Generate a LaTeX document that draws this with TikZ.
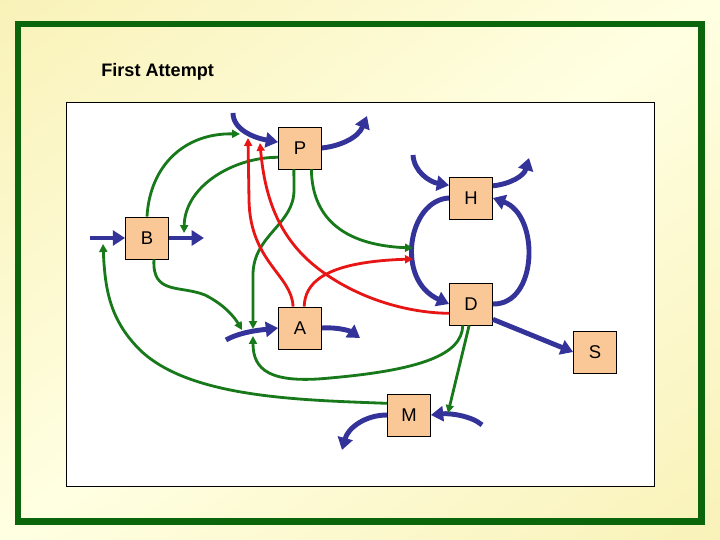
\documentclass[tikz,border=0pt]{standalone}
\usepackage{fontspec}
\setmainfont{Liberation Sans}
\usetikzlibrary{arrows.meta}
\definecolor{bgyellow}{HTML}{F6ECA6}
\definecolor{bglight}{HTML}{FFFFE2}
\definecolor{frame}{HTML}{0B650B}
\definecolor{peach}{HTML}{FAC797}
\definecolor{flow}{HTML}{333399}
\definecolor{link}{HTML}{17791A}
\definecolor{hot}{HTML}{E81515}
\pgfdeclarehorizontalshading{slide}{100bp}{color(0bp)=(bgyellow); color(50bp)=(bglight); color(100bp)=(bgyellow)}

\begin{document}
\begin{tikzpicture}[x=0.02cm, y=-0.02cm,
    box/.style={draw=black, line width=0.5pt, fill=peach, minimum width=0.86cm, minimum height=0.84cm, inner sep=0pt, font=\fontsize{10.5}{12}\selectfont},
    flowline/.style={draw=flow, line width=2.8pt, -{Triangle[length=7pt, width=8.5pt]}},
    linkline/.style={draw=link, line width=1.6pt, -{Triangle[length=4.5pt, width=4.5pt]}},
    hotline/.style={draw=hot, line width=1.6pt, -{Triangle[length=4.5pt, width=4.5pt]}},
  ]
% --- Slide -----------------------------------------------------------------------
\useasboundingbox (0,0) rectangle (720,540);
\shade[shading=slide, shading angle=-53] (0,0) rectangle (720,540);
\draw[frame, line width=3.7pt] (18,24) rectangle (701.5,521.5);
\draw[fill=white, line width=0.5pt] (66,102) rectangle (654,486);
\node[anchor=base west, inner sep=0pt, font=\fontsize{10.3}{12}\selectfont\bfseries] (title) at (101,77) {First Attempt};

% --- Stocks ----------------------------------------------------------------------
\node[box] (P) at (300,148) {P};
\node[box] (B) at (147,238) {B};
\node[box] (H) at (471,198) {H};
\node[box] (D) at (471,304) {D};
\node[box] (A) at (300,328) {A};
\node[box] (S) at (595,352) {S};
\node[box] (M) at (409,415) {M};

% --- Loose ends of the flows, and the points where links meet them ---------------
\coordinate (pin) at (233,113);
\coordinate (pout) at (367,116);
\coordinate (bin) at (90,238);
\coordinate (bout) at (204,238);
\coordinate (hin) at (413,155);
\coordinate (hout) at (529,158);
\coordinate (ain) at (226,340);
\coordinate (aout) at (360,338);
\coordinate (mout) at (342,450);
\coordinate (min) at (482,425);
\coordinate (pgate) at (240,134);
\coordinate (pgateL) at (248,138);
\coordinate (pgateR) at (260,143);
\coordinate (bgate) at (184,233);
\coordinate (bgateL) at (103,244);
\coordinate (agate) at (253,329);
\coordinate (agateL) at (242,330);
\coordinate (agateB) at (253,336);
\coordinate (loopgate) at (413,248);
\coordinate (loopgateR) at (413,259);
\coordinate (mgate) at (448,413);

% --- Flows (blue) ----------------------------------------------------------------
\draw[flowline] (pin) .. controls (233,130) and (255,138) .. (P.165);
\draw[flowline] (P.east) .. controls (340,146) and (358,138) .. (pout);
\draw[flowline] (bin) -- (B.west);
\draw[flowline] (B.east) -- (bout);
\draw[flowline] (hin) .. controls (414,172) and (430,182) .. (H.150);
\draw[flowline] (H.29) .. controls (510,184) and (524,176) .. (hout);
\draw[flowline] (H.west) .. controls (408,200) and (395,280) .. (D.west);
\draw[flowline] (D.east) .. controls (538,305) and (540,215) .. (H.east);
\draw[flowline] (D.-35) -- (S.west);
\draw[flowline] (ain) .. controls (240,332) and (260,330) .. (A.west);
\draw[flowline] (A.east) .. controls (338,327) and (350,331) .. (aout);
\draw[flowline] (M.west) .. controls (365,415) and (348,428) .. (mout);
\draw[flowline] (min) .. controls (472,416) and (450,413) .. (M.east);

% --- Links (green) ---------------------------------------------------------------
\draw[linkline] (B.north) .. controls (150,165) and (185,133) .. (pgate);
\draw[linkline] (P.203) .. controls (235,157) and (185,185) .. (bgate);
\draw[linkline] (P.254) -- (294,190) .. controls (294,225) and (253,235) .. (253,275) -- (agate);
\draw[linkline] (P.-62) .. controls (312,215) and (340,245) .. (loopgate);
\draw[linkline] (B.-72) .. controls (152,295) and (180,285) .. (205,295) .. controls (225,305) and (235,318) .. (agateL);
\draw[linkline] (D.249) .. controls (462,355) and (420,370) .. (330,378) .. controls (270,384) and (253,370) .. (agateB);
\draw[linkline] (D.-95) -- (mgate);
\draw[linkline] (M.152) .. controls (300,400) and (190,398) .. (140,350) .. controls (110,320) and (105,290) .. (bgateL);

% --- Links (red) -----------------------------------------------------------------
\draw[hotline] (A.108) .. controls (292,275) and (250,262) .. (249,200) -- (pgateL);
\draw[hotline] (D.203) .. controls (410,313) and (360,300) .. (320,270) .. controls (280,240) and (265,200) .. (pgateR);
\draw[hotline] (A.79) .. controls (305,285) and (320,262) .. (loopgateR);
\end{tikzpicture}
\end{document}
